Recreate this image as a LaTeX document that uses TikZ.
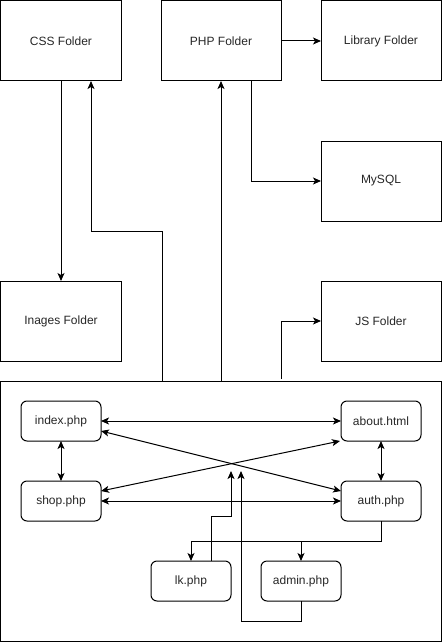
\documentclass[tikz,border=0pt]{standalone}
\usepackage{fontspec}
\setmainfont{Liberation Sans}
\usetikzlibrary{arrows.meta}
\begin{document}
\begin{tikzpicture}[x=1pt,y=-1pt,
  box/.style={draw,line width=1pt,minimum width=120pt,minimum height=80pt,inner sep=0pt,outer sep=0pt,font=\fontsize{12}{14}\selectfont,text=black!85},
  pg/.style={draw,line width=1pt,rounded corners=6pt,minimum width=80pt,minimum height=40pt,inner sep=0pt,outer sep=0pt,font=\fontsize{12}{14}\selectfont,text=black!85},
  arr/.style={line width=1pt,-{Stealth[length=8pt,width=7pt,inset=2pt]}},
  dbl/.style={line width=1pt,{Stealth[length=8pt,width=7pt,inset=2pt]}-{Stealth[length=8pt,width=7pt,inset=2pt]}}]
\useasboundingbox (-1,-1) rectangle (441,641);
\node[box] (css) at (60,40) {CSS Folder};
\node[box] (php) at (220,40) {PHP Folder};
\node[box] (lib) at (380,40) {Library Folder};
\node[box] (mysql) at (380,180) {MySQL};
\node[box] (imgs) at (60,320) {Inages Folder};
\node[box] (js) at (380,320) {JS Folder};
\node[draw,line width=1pt,minimum width=440pt,minimum height=260pt,inner sep=0pt,outer sep=0pt] (cont) at (220,510) {};
\node[pg] (index) at (60,420) {index.php};
\node[pg] (about) at (380,420) {about.html};
\node[pg] (shop) at (60,500) {shop.php};
\node[pg] (auth) at (380,500) {auth.php};
\node[pg] (lk) at (190,580) {lk.php};
\node[pg] (admin) at (300,580) {admin.php};
\coordinate (t1) at (230,470);
\coordinate (t2) at (240,470);
% top connectors
\draw[arr] (css.south) -- (imgs.north);
\draw[arr] ([xshift=-59pt]cont.north) |- (90,230) -- ([xshift=30pt]css.south);
\draw[arr] (cont.north) -- (php.south);
\draw[arr] ([xshift=30pt]php.south) |- (mysql.west);
\draw[arr] (php.east) -- (lib.west);
\draw[arr] ([xshift=60pt,yshift=2pt]cont.north) |- (js.west);
% inner connectors
\draw[dbl] (index.east) -- (about.west);
\draw[dbl] (index.south) -- (shop.north);
\draw[dbl] (about.south) -- (auth.north);
\draw[dbl] (shop.east) -- (auth.west);
\draw[dbl] ([yshift=-10pt]index.east) -- ([yshift=10pt]auth.west);
\draw[dbl] ([xshift=-1pt]about.south west) -- ([yshift=10pt]shop.east);
\draw[arr] (auth.south) |- (190,540) -- (lk.north);
\draw[arr] (300,540) -- (admin.north);
\draw[arr] ([xshift=20pt]lk.north) |- (230,515) -- (t1);
\draw[arr] (admin.south) |- (240,620) -- (t2);
\end{tikzpicture}
\end{document}
